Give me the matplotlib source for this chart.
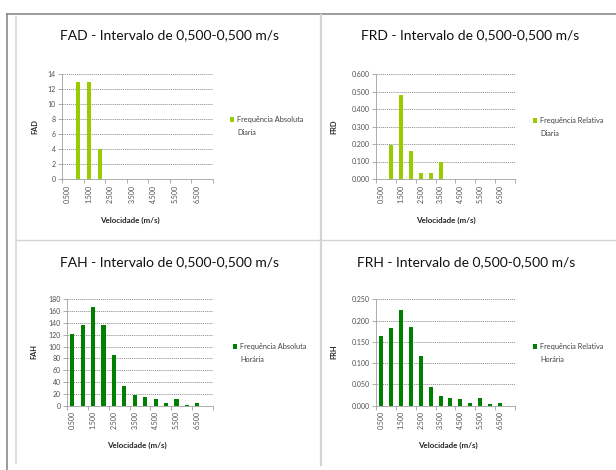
import matplotlib
matplotlib.use("Agg")
import matplotlib.pyplot as plt
from matplotlib.lines import Line2D
from matplotlib.patches import Patch
import numpy as np

plt.rcParams['font.family'] = ['Lato', 'DejaVu Sans']

# velocity classes (m/s)
classes = ["0.500", "1.000", "1.500", "2.000", "2.500", "3.000", "3.500",
           "4.000", "4.500", "5.000", "5.500", "6.000", "6.500", "7.000"]

fad = [0, 13, 13, 4, 0, 0, 0, 0, 0, 0, 0, 0, 0, 0]
frd = [0, 0.195, 0.480, 0.160, 0.033, 0.033, 0.097, 0, 0, 0, 0, 0, 0, 0]
fah = [122, 136, 167, 137, 86, 33, 18, 14, 11, 4, 12, 2, 4, 0]
frh = [0.164, 0.182, 0.224, 0.184, 0.116, 0.044, 0.023, 0.019, 0.015,
       0.006, 0.017, 0.003, 0.006, 0]

light_green = "#99CC00"
dark_green = "#008000"

W, H = 616, 470
fig = plt.figure(figsize=(W / 100, H / 100), dpi=100)


def fx(px):
    return px / W


def fy(py):
    return 1 - py / H


def panel(rect, values, color, yticks, yfmt, title, title_xy, ylabel, ylab_xy,
          xlab_xy, leg_lines, leg_xy):
    ax = fig.add_axes(rect)
    x = np.arange(len(classes))
    bars = ax.bar(x, values, width=0.4, color=color, zorder=3)
    ax.set_xlim(-0.5, len(classes) - 0.5)
    ax.set_ylim(yticks[0], yticks[-1])
    ax.set_yticks(yticks)
    ax.set_yticklabels([yfmt.format(v) for v in yticks])
    ax.set_xticks(x[::2])
    ax.set_xticklabels(classes[::2], rotation=90)
    ax.set_xticks(np.arange(-0.5, len(classes), 2), minor=True)
    ax.tick_params(axis='x', which='major', length=0, pad=4)
    ax.tick_params(axis='x', which='minor', length=3, color="#a0a0a0",
                   width=0.6)
    ax.tick_params(axis='y', length=3, color="#a0a0a0", width=0.6, pad=1.5)
    ax.tick_params(labelsize=5.0, labelcolor="#505050")
    ax.grid(axis='y', color="#8c8c8c", linestyle=(0, (1.5, 1)),
            linewidth=0.6, zorder=0)
    for s in ['top', 'right']:
        ax.spines[s].set_visible(False)
    for s in ['left', 'bottom']:
        ax.spines[s].set_color("#a0a0a0")
        ax.spines[s].set_linewidth(0.6)
    fig.text(fx(title_xy[0]), fy(title_xy[1]), title, ha='center',
             va='center', fontsize=10, color="#111111")
    fig.text(fx(ylab_xy[0]), fy(ylab_xy[1]), ylabel, ha='center',
             va='center', rotation=90, fontsize=5.3, fontweight='bold',
             color="#262626")
    fig.text(fx(xlab_xy[0]), fy(xlab_xy[1]), "Velocidade (m/s)",
             ha='center', va='center', fontsize=5.8, fontweight='bold',
             color="#262626")
    blank = Patch(visible=False)
    leg = ax.legend([bars, blank], leg_lines, loc='upper left',
                    bbox_to_anchor=(fx(leg_xy[0]), fy(leg_xy[1])),
                    bbox_transform=fig.transFigure, frameon=False,
                    fontsize=5.3, handlelength=0.55, handleheight=0.55,
                    handletextpad=0.4, borderpad=0, borderaxespad=0,
                    labelspacing=0.75)
    for t in leg.get_texts():
        t.set_color("#404040")
    return ax


panel([fx(62), fy(179), fx(213 - 62), (179 - 74) / H], fad, light_green,
      list(range(0, 15, 2)), "{:d}",
      "FAD - Intervalo de 0,500-0,500 m/s", (169, 35),
      "FAD", (35, 127), (130, 220),
      ["Frequência Absoluta", "Diaria"], (230, 116))

panel([fx(376), fy(179), fx(515 - 376), (179 - 74) / H], frd, light_green,
      [0.0, 0.1, 0.2, 0.3, 0.4, 0.5, 0.6], "{:.3f}",
      "FRD - Intervalo de 0,500-0,500 m/s", (470, 35),
      "FRD", (334, 127), (446, 220),
      ["Frequência Relativa", "Diaria"], (533, 117))

panel([fx(67), fy(405.7), fx(213 - 67), (405.7 - 299.3) / H], fah, dark_green,
      list(range(0, 181, 20)), "{:d}",
      "FAH - Intervalo de 0,500-0,500 m/s", (169, 262),
      "FAH", (34, 352), (137, 445),
      ["Frequência Absoluta", "Horária"], (233, 343))

panel([fx(376), fy(405.7), fx(515 - 376), (405.7 - 299.3) / H], frh, dark_green,
      [0.0, 0.05, 0.1, 0.15, 0.2, 0.25], "{:.3f}",
      "FRH - Intervalo de 0,500-0,500 m/s", (466, 262),
      "FRH", (334, 352), (448, 445),
      ["Frequência Relativa", "Horária"], (533, 343))

# sheet frame and chart borders
fig.add_artist(Line2D([fx(7), 1], [fy(14), fy(14)], color="#8a8a8a", lw=1.2))
fig.add_artist(Line2D([fx(7), fx(7)], [fy(14), 0], color="#8a8a8a", lw=1.2))
fig.add_artist(Line2D([fx(16), fx(16)], [fy(17), fy(463)], color="#d8d8d8", lw=1.2))
fig.add_artist(Line2D([fx(321), fx(321)], [fy(15), fy(465)], color="#d4d4d4", lw=1.6))
fig.add_artist(Line2D([fx(16), 1], [fy(240), fy(240)], color="#d4d4d4", lw=1.0))

fig.savefig("out.png", dpi=100)
